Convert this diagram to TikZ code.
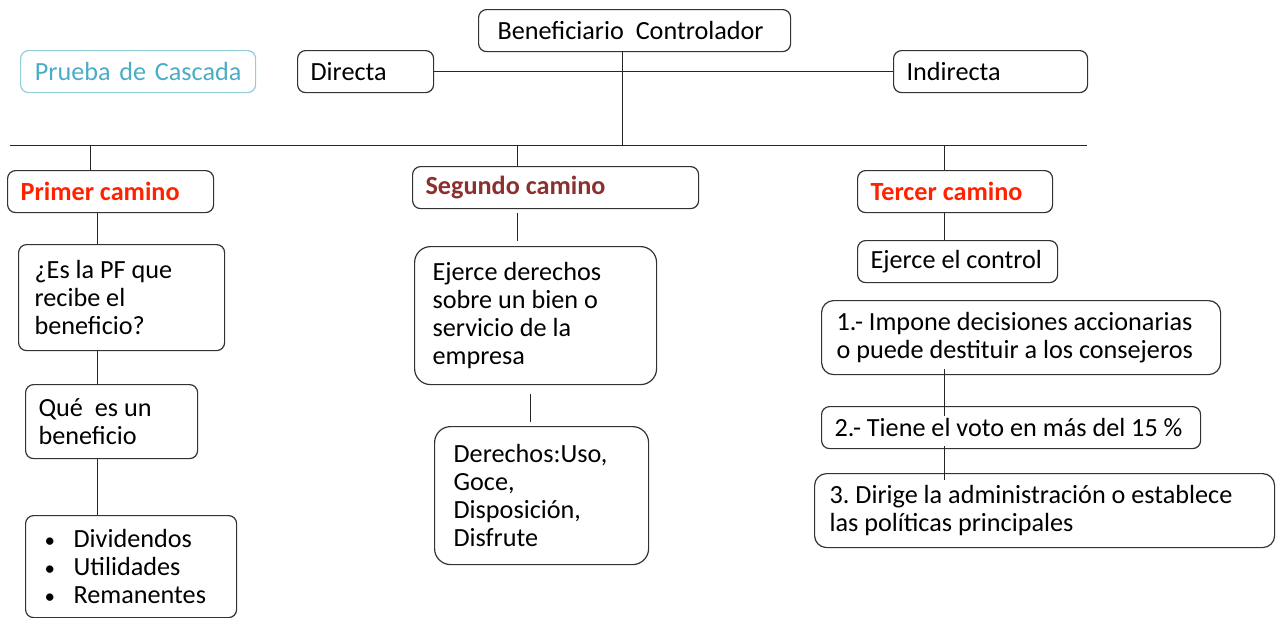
\documentclass[tikz,border=0pt]{standalone}
\usepackage{fontspec}
\setmainfont{Carlito}
\usepackage{tikz}
\frenchspacing
\definecolor{cascada}{HTML}{4BACC6}
\definecolor{cascadab}{HTML}{92CDDC}
\definecolor{rojo}{HTML}{FF2200}
\definecolor{vino}{HTML}{8C2F2F}
\definecolor{borde}{HTML}{333333}
\tikzset{%
  caja/.style={draw=borde, line width=0.6pt, rounded corners=4pt, anchor=north west,
    align=flush left, inner xsep=6.5pt, inner ysep=0pt, minimum height=21pt,
    font=\fontsize{13.1}{14}\selectfont},
  titulo/.style={caja, font=\fontsize{13.1}{14}\selectfont\bfseries},
  liga/.style={line width=0.5pt, draw=black!85}
}
\newcommand{\vineta}{\hspace{3pt}\makebox[14.5pt][l]{\scalebox{0.8}{\textbullet}}}
\begin{document}
\begin{tikzpicture}[x=0.5pt,y=-0.5pt]
\useasboundingbox (0,0) rectangle (1276,617);
% encabezado
\node[caja, draw=cascadab, text=cascada, align=center, text width=104.5pt] (prueba) at (20,50) {Prueba de Cascada};
\node[caja, text width=55pt] (directa) at (297,50) {Directa};
\node[caja, inner xsep=9.5pt, text width=137pt] (benef) at (478,9) {\mbox{Beneficiario\ \ Controlador}};
\node[caja, text width=84pt] (indirecta) at (893,50) {Indirecta};
\coordinate (hl) at (10,145);
\coordinate (hr) at (1087,145);
% caminos
\node[titulo, text=rojo, text width=90pt] (primer) at (7,170) {Primer camino};
\node[titulo, text=vino, text width=130pt] (segundo) at (412,166) {Segundo camino};
\node[titulo, text=rojo, text width=84.5pt] (tercer) at (857,170) {\mbox{Tercer camino}};
% primer camino
\node[caja, inner xsep=8pt, text width=87pt, minimum height=53pt] (pf) at (18,244) {¿Es la PF que\\recibe el\\beneficio?};
\node[caja, text width=73pt, minimum height=37pt] (que) at (25,384) {Qué\ \ es un\\beneficio};
\node[caja, text width=92.5pt, minimum height=51pt] (bul) at (25,515)
  {\vineta Dividendos\\ \vineta Utilidades\\ \vineta Remanentes};
% segundo camino
\node[caja, rounded corners=8pt, inner xsep=9pt, text width=103pt, minimum height=69pt] (ejerce) at (414,246) {Ejerce derechos\\sobre un bien o\\servicio de la\\empresa};
\node[caja, rounded corners=8pt, inner xsep=9.5pt, text width=88pt, minimum height=69pt] (derechos) at (434,426) {Derechos:Uso,\\Goce,\\Disposición,\\Disfrute};
% tercer camino
\node[caja, text width=87pt] (control) at (857,240) {\mbox{Ejerce el control}};
\node[caja, rounded corners=6pt, inner xsep=7.5pt, text width=184.5pt, minimum height=37pt] (uno) at (821,300) {\mbox{1.- Impone decisiones accionarias}\\\mbox{o puede destituir a los consejeros}};
\node[caja, text width=176.5pt] (dos) at (821,406) {\mbox{2.- Tiene el voto en más del 15 \%}};
\node[caja, rounded corners=6pt, inner xsep=7.5pt, text width=215pt, minimum height=37pt] (tres) at (814,473) {\mbox{3. Dirige la administración o establece}\\las políticas principales};
% lineas
\coordinate (c0) at (622,0);
\coordinate (c1) at (97,0);
\coordinate (c2) at (517,0);
\coordinate (c3) at (530,0);
\coordinate (c4) at (944,0);
\draw[liga] (directa.east) -- (indirecta.west);
\draw[liga] (benef.south -| c0) -- (hl -| c0);
\draw[liga] (hl) -- (hr);
\draw[liga] (primer.north -| 90,0) -- (hl -| 90,0);
\draw[liga] (segundo.north -| c2) -- (hl -| c2);
\draw[liga] (tercer.north -| c4) -- (hl -| c4);
\draw[liga] (primer.south -| c1) -- (pf.north -| c1);
\draw[liga] (pf.south -| c1) -- (que.north -| c1);
\draw[liga] (que.south -| c1) -- (bul.north -| c1);
\draw[liga] ([yshift=-2pt]segundo.south -| c2) -- ([yshift=2.5pt]ejerce.north -| c2);
\draw[liga] ([yshift=-4.5pt]ejerce.south -| c3) -- ([yshift=2pt]derechos.north -| c3);
\draw[liga] (tercer.south -| c4) -- (control.north -| c4);
\draw[liga] ([yshift=3pt]uno.south -| c4) -- ([yshift=-5pt]dos.north -| c4);
\draw[liga] ([yshift=1.5pt]dos.south -| c4) -- ([yshift=-3.5pt]tres.north -| c4);
\end{tikzpicture}
\end{document}
